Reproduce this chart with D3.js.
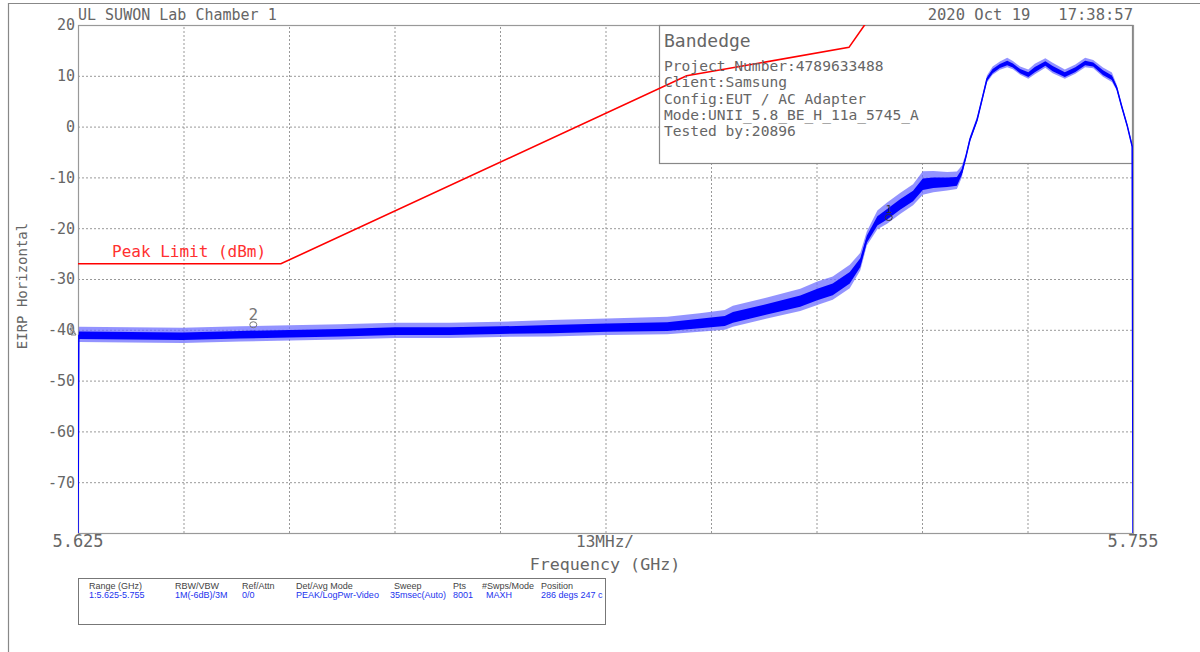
<!DOCTYPE html>
<html>
<head>
<meta charset="utf-8">
<script src="https://cdn.jsdelivr.net/npm/d3@7"></script>
<style>
  body { margin: 0; background: #fff; }
  svg { display: block; }
  .mono { font-family: "DejaVu Sans Mono", monospace; }
</style>
</head>
<body>
<svg id="chart" width="1200" height="652"></svg>
<script>
// ---- data ----
const freqGHz = [5.6250, 5.6251, 5.6314, 5.6379, 5.6450, 5.6511, 5.6573, 5.6641, 5.6708, 5.6770,
  5.6832, 5.6902, 5.6976, 5.7016, 5.7047, 5.7057, 5.7099, 5.7140, 5.7161, 5.7180,
  5.7201, 5.7214, 5.7222, 5.7235, 5.7247, 5.7263, 5.7279, 5.7291, 5.7304, 5.7321,
  5.7333, 5.7339, 5.7344, 5.7349, 5.7358, 5.7365, 5.7370, 5.7377, 5.7386, 5.7395,
  5.7402, 5.7411, 5.7421, 5.7429, 5.7442, 5.7451, 5.7466, 5.7479, 5.7491, 5.7501,
  5.7513, 5.7524, 5.7530, 5.7536, 5.7543, 5.7549, 5.7550];
const traceDbm = [-80, -41.1, -41.2, -41.3, -41.0, -40.8, -40.6, -40.3, -40.3, -40.1,
  -39.9, -39.6, -39.4, -38.8, -38.3, -37.6, -36.0, -34.4, -33.1, -32.1,
  -29.8, -26.8, -22.2, -18.6, -17.3, -15.4, -13.7, -11.4, -11.1, -11.0,
  -10.8, -9.0, -6.0, -2.6, 1.4, 6.0, 9.3, 10.9, 11.9, 12.5,
  12.0, 10.9, 10.2, 11.2, 12.4, 11.4, 10.2, 11.2, 12.5, 12.2,
  10.6, 9.6, 7.6, 4.0, 0.1, -3.9, -80];
// visible spread of the noisy trace (half width, dB)
const spreadDb = [0, 1.3, 1.3, 1.3, 1.3, 1.3, 1.3, 1.3, 1.3, 1.3,
  1.4, 1.4, 1.5, 1.6, 1.7, 1.8, 1.8, 1.9, 2.0, 2.0,
  2.0, 1.5, 1.2, 1.6, 1.8, 1.8, 1.8, 2.0, 1.8, 1.6,
  1.5, 1.0, 0.5, 0.5, 0.5, 0.5, 0.6, 0.7, 0.7, 0.8,
  0.7, 0.7, 0.8, 0.9, 0.8, 0.9, 0.8, 0.8, 0.8, 0.7,
  0.8, 0.8, 0.5, 0.4, 0.4, 0.4, 0];

const limitGHz = [5.625, 5.650, 5.700, 5.720, 5.725];
const limitDbm = [-27, -27, 10, 15.6, 27];

const markerGHz = [5.7249, 5.6466];
const markerDbm = [-17.9, -39.0];
const markerLabels = ["1", "2"];

const yTicks = [20, 10, 0, -10, -20, -30, -40, -50, -60, -70];
const yGrid = [10, 0, -10, -20, -30, -40, -50, -60, -70];
const xGrid = [5.638, 5.651, 5.664, 5.677, 5.690, 5.703, 5.716, 5.729, 5.742];

const legendTitle = "Bandedge";
const legendLines = ["Project Number:4789633488", "Client:Samsung", "Config:EUT / AC Adapter",
  "Mode:UNII_5.8_BE_H_11a_5745_A", "Tested by:20896"];

const infoHeaders = ["Range (GHz)", "RBW/VBW", "Ref/Attn", "Det/Avg Mode", "Sweep", "Pts", "#Swps/Mode", "Position"];
const infoValues = ["1:5.625-5.755", "1M(-6dB)/3M", "0/0", "PEAK/LogPwr-Video", "35msec(Auto)", "8001", "MAXH", "286 degs 247 c"];

// ---- layout ----
const svg = d3.select("#chart");
const margin = {top: 25, left: 78, right: 1133, bottom: 533};
const grey = "#666";

const xScale = d3.scaleLinear().domain([5.625, 5.755]).range([margin.left, margin.right]);
const yScale = d3.scaleLinear().domain([-80, 20]).range([margin.bottom, margin.top]);

// outer frame
svg.append("path")
  .attr("d", "M8.5,652 V3.5 H1200")
  .attr("fill", "none").attr("stroke", "#888").attr("stroke-width", 1.2);

svg.append("defs").append("clipPath").attr("id", "plotClip")
  .append("rect")
  .attr("x", margin.left).attr("y", margin.top)
  .attr("width", margin.right - margin.left).attr("height", margin.bottom - margin.top);

// grid
const gridG = svg.append("g");
gridG.append("g")
  .attr("transform", `translate(${margin.left},0)`)
  .call(d3.axisLeft(yScale).tickValues(yGrid).tickSize(-(margin.right - margin.left)).tickFormat(""))
  .call(g => g.select(".domain").remove());
gridG.append("g")
  .attr("transform", `translate(0,${margin.bottom})`)
  .call(d3.axisBottom(xScale).tickValues(xGrid).tickSize(-(margin.bottom - margin.top)).tickFormat(""))
  .call(g => g.select(".domain").remove());
gridG.selectAll(".tick line")
  .attr("stroke", "#999").attr("stroke-dasharray", "2,2").attr("stroke-width", 1);

// plot border
svg.append("rect")
  .attr("x", margin.left + 0.5).attr("y", margin.top + 0.5)
  .attr("width", margin.right - margin.left).attr("height", margin.bottom - margin.top)
  .attr("fill", "none").attr("stroke", "#999").attr("stroke-width", 1.2);

// legend box (covers grid)
svg.append("rect")
  .attr("x", 659.5).attr("y", 25.5).attr("width", 473).attr("height", 138)
  .attr("fill", "#fff").attr("stroke", "#888").attr("stroke-width", 1.2);

// y tick labels
svg.append("g")
  .attr("transform", `translate(${margin.left},0)`)
  .call(d3.axisLeft(yScale).tickValues(yTicks).tickSize(0).tickPadding(3).tickFormat(d => String(d)))
  .call(g => g.select(".domain").remove())
  .selectAll("text")
  .attr("class", "mono")
  .style("font-size", "15px").attr("fill", grey);

// ref level marker at left edge
svg.append("path")
  .attr("d", "M71,325 L71,335 L76,335 Z M71,330 L76,335")
  .attr("fill", "none").attr("stroke", "#888");

// trace: noisy band + core line
const plot = svg.append("g").attr("clip-path", "url(#plotClip)");
const idx = d3.range(freqGHz.length);
plot.append("path")
  .datum(idx)
  .attr("d", d3.area()
    .x(i => xScale(freqGHz[i]))
    .y0(i => yScale(traceDbm[i] - spreadDb[i]))
    .y1(i => yScale(traceDbm[i] + spreadDb[i] * 1.3)))
  .attr("fill", "#6f6fff").attr("opacity", 0.75);
plot.append("path")
  .datum(idx)
  .attr("d", d3.area()
    .x(i => xScale(freqGHz[i]))
    .y0(i => yScale(traceDbm[i] - spreadDb[i] * 0.55))
    .y1(i => yScale(traceDbm[i] + spreadDb[i] * 0.6)))
  .attr("fill", "#0000ff");
plot.append("path")
  .datum(idx)
  .attr("d", d3.line()
    .x(i => xScale(freqGHz[i]))
    .y(i => yScale(traceDbm[i])))
  .attr("fill", "none").attr("stroke", "#0000ff").attr("stroke-width", 1.5);

// limit line
plot.append("path")
  .datum(d3.range(limitGHz.length))
  .attr("d", d3.line().x(i => xScale(limitGHz[i])).y(i => yScale(limitDbm[i])))
  .attr("fill", "none").attr("stroke", "#ff0000").attr("stroke-width", 1.6);

svg.append("text").attr("class", "mono")
  .attr("x", 112).attr("y", 257)
  .style("font-size", "16px").attr("fill", "#ff3030")
  .text("Peak Limit (dBm)");

// markers
markerGHz.forEach((f, i) => {
  const mx = xScale(f), my = yScale(markerDbm[i]);
  svg.append("ellipse").attr("cx", mx).attr("cy", my).attr("rx", 3.5).attr("ry", 3)
    .attr("fill", "none").attr("stroke", i === 0 ? "#333" : "#777").attr("stroke-width", 1);
  svg.append("text").attr("class", "mono")
    .attr("x", mx).attr("y", my - 5).attr("text-anchor", "middle")
    .style("font-size", i === 0 ? "11px" : "16px").attr("fill", i === 0 ? "#333" : "#777")
    .text(markerLabels[i]);
});

// legend text
svg.append("text").attr("class", "mono")
  .attr("x", 664).attr("y", 47)
  .style("font-size", "18px").attr("fill", grey)
  .text(legendTitle);
svg.append("g").selectAll("text")
  .data(legendLines).enter()
  .append("text").attr("class", "mono")
  .attr("x", 664).attr("y", (d, i) => 71 + i * 16.3)
  .style("font-size", "14.6px").attr("fill", grey)
  .text(d => d);

// header
svg.append("text").attr("class", "mono")
  .attr("x", 78).attr("y", 20)
  .style("font-size", "15px").attr("fill", grey)
  .text("UL SUWON Lab Chamber 1");
svg.append("text").attr("class", "mono")
  .attr("x", 1133).attr("y", 20).attr("text-anchor", "end")
  .style("font-size", "15.5px").attr("fill", grey).attr("xml:space", "preserve")
  .style("white-space", "pre")
  .text("2020 Oct 19   17:38:57");

// x labels
svg.append("text").attr("class", "mono")
  .attr("x", xScale(5.625)).attr("y", 547).attr("text-anchor", "middle")
  .style("font-size", "17px").attr("fill", grey).text("5.625");
svg.append("text").attr("class", "mono")
  .attr("x", xScale(5.755)).attr("y", 547).attr("text-anchor", "middle")
  .style("font-size", "17px").attr("fill", grey).text("5.755");
svg.append("text").attr("class", "mono")
  .attr("x", 605).attr("y", 547).attr("text-anchor", "middle")
  .style("font-size", "16px").attr("fill", grey).text("13MHz/");
svg.append("text").attr("class", "mono")
  .attr("x", 605).attr("y", 570).attr("text-anchor", "middle")
  .style("font-size", "16.7px").attr("fill", grey).text("Frequency (GHz)");

// y label
svg.append("text").attr("class", "mono")
  .attr("transform", "translate(27,286) rotate(-90)").attr("text-anchor", "middle")
  .style("font-size", "14px").attr("fill", grey).text("EIRP Horizontal");

// info box
svg.select("defs").append("clipPath").attr("id", "infoClip")
  .append("rect").attr("x", 78).attr("y", 578).attr("width", 528).attr("height", 47);
svg.append("rect")
  .attr("x", 78.5).attr("y", 578.5).attr("width", 527).attr("height", 46)
  .attr("fill", "#fff").attr("stroke", "#777");
const infoX = [89, 175, 242, 296, 390, 453, 482, 541];
const infoG = svg.append("g").attr("clip-path", "url(#infoClip)")
  .style("font-family", "'Liberation Sans', Arial, sans-serif").style("font-size", "9px");
infoG.selectAll(".hdr").data(infoHeaders).enter()
  .append("text").attr("x", (d, i) => infoX[i] + (i === 4 ? 4 : 0)).attr("y", 589)
  .attr("fill", "#444").text(d => d);
infoG.selectAll(".val").data(infoValues).enter()
  .append("text").attr("x", (d, i) => infoX[i] + (i === 6 ? 4 : 0)).attr("y", 598)
  .attr("fill", "#2233ee").text(d => d);
</script>
</body>
</html>
